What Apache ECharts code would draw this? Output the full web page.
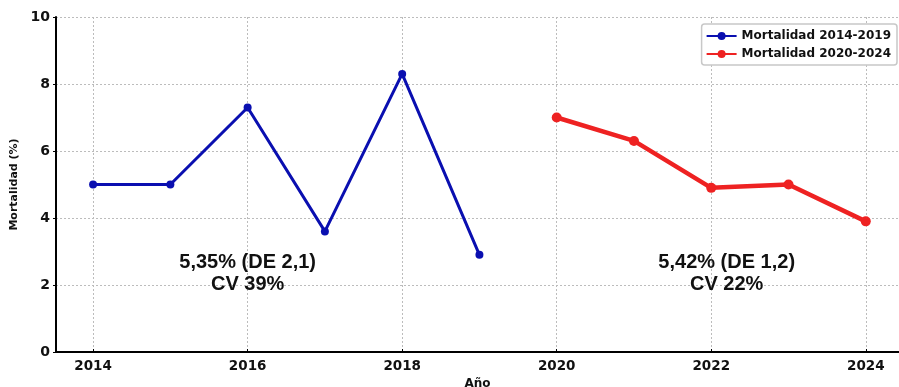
<!DOCTYPE html>
<html>
<head>
<meta charset="utf-8">
<script src="https://cdn.jsdelivr.net/npm/echarts@6/dist/echarts.min.js"></script>
<style>
  html, body { margin: 0; padding: 0; background: #fff; }
  #chart { width: 899px; height: 387px; }
</style>
</head>
<body>
<div id="chart"></div>
<script>
// Mortality by year, two periods
const years1 = [2014, 2015, 2016, 2017, 2018, 2019];
const mort1 = [5.0, 5.0, 7.3, 3.6, 8.3, 2.9];
const years2 = [2020, 2021, 2022, 2023, 2024];
const mort2 = [7.0, 6.3, 4.9, 5.0, 3.9];
const xTicks = [2014, 2016, 2018, 2020, 2022, 2024];
const seriesNames = ['Mortalidad 2014-2019', 'Mortalidad 2020-2024'];
const notes = [
  { x: 2016, y: 2.35, text: '5,35% (DE 2,1)\nCV 39%' },
  { x: 2022.2, y: 2.35, text: '5,42% (DE 1,2)\nCV 22%' }
];

const BLUE = '#0a0fb0';
const RED = '#ee2222';
const FONT = 'DejaVu Sans';

function pairs(xs, ys) { return xs.map((x, i) => [x, ys[i]]); }

// invisible anchor carrying a two-line summary label
function noteMark(n) {
  return {
    coord: [n.x, n.y],
    symbol: 'rect',
    symbolSize: 1,
    itemStyle: { color: 'rgba(0,0,0,0)' },
    label: {
      show: true,
      formatter: n.text,
      fontFamily: 'Liberation Sans',
      fontWeight: 'bold',
      fontSize: 20,
      lineHeight: 22,
      color: '#111',
      align: 'center',
      verticalAlign: 'middle',
      position: 'inside'
    }
  };
}

const chart = echarts.init(document.getElementById('chart'), null, { renderer: 'canvas' });
chart.setOption({
  animation: false,
  backgroundColor: '#fff',
  grid: { left: 56, right: 0, top: 17, bottom: 35, containLabel: false, outerBoundsMode: 'none' },
  legend: {
    right: 2,
    top: 24,
    orient: 'vertical',
    itemWidth: 30,
    itemHeight: 10,
    itemGap: 6,
    padding: [6, 6, 5, 4],
    backgroundColor: '#fff',
    borderColor: '#c8c8c8',
    borderWidth: 1.5,
    borderRadius: 3,
    textStyle: { fontFamily: FONT, fontWeight: 'bold', fontSize: 12, color: '#111' },
    data: seriesNames
  },
  xAxis: {
    type: 'value',
    min: 2013.52,
    max: 2024.43,
    name: 'Año',
    nameLocation: 'middle',
    nameGap: 21,
    nameTextStyle: { fontFamily: FONT, fontWeight: 'bold', fontSize: 12, color: '#111' },
    axisLine: { show: true, onZero: false, lineStyle: { color: '#000', width: 2 } },
    axisTick: { show: true, inside: true, length: 3, customValues: xTicks, lineStyle: { color: '#000' } },
    axisLabel: {
      customValues: xTicks,
      fontFamily: FONT, fontWeight: 'bold', fontSize: 13.5, color: '#111', margin: 7,
      formatter: v => String(v)
    },
    splitLine: { show: true, lineStyle: { color: '#bcbcbc', type: [2, 2], width: 1 } }
  },
  yAxis: {
    type: 'value',
    min: 0,
    max: 10,
    interval: 2,
    name: 'Mortalidad (%)',
    nameLocation: 'middle',
    nameGap: 35,
    nameRotate: 90,
    nameTextStyle: { fontFamily: FONT, fontWeight: 'bold', fontSize: 11, color: '#111' },
    axisLine: { show: true, lineStyle: { color: '#000', width: 2 } },
    axisTick: { show: true, length: 3, lineStyle: { color: '#000' } },
    axisLabel: { fontFamily: FONT, fontWeight: 'bold', fontSize: 14, color: '#111', margin: 6 },
    splitLine: { show: true, lineStyle: { color: '#bcbcbc', type: [2, 2], width: 1 } }
  },
  series: [
    {
      name: seriesNames[0],
      type: 'line',
      data: pairs(years1, mort1),
      symbol: 'circle',
      symbolSize: 8,
      lineStyle: { color: BLUE, width: 3 },
      itemStyle: { color: BLUE },
      z: 3,
      markPoint: { silent: true, data: [noteMark(notes[0])] }
    },
    {
      name: seriesNames[1],
      type: 'line',
      data: pairs(years2, mort2),
      symbol: 'circle',
      symbolSize: 10,
      lineStyle: { color: RED, width: 4.5 },
      itemStyle: { color: RED },
      z: 3,
      markPoint: { silent: true, data: [noteMark(notes[1])] }
    }
  ]
});
</script>
</body>
</html>
